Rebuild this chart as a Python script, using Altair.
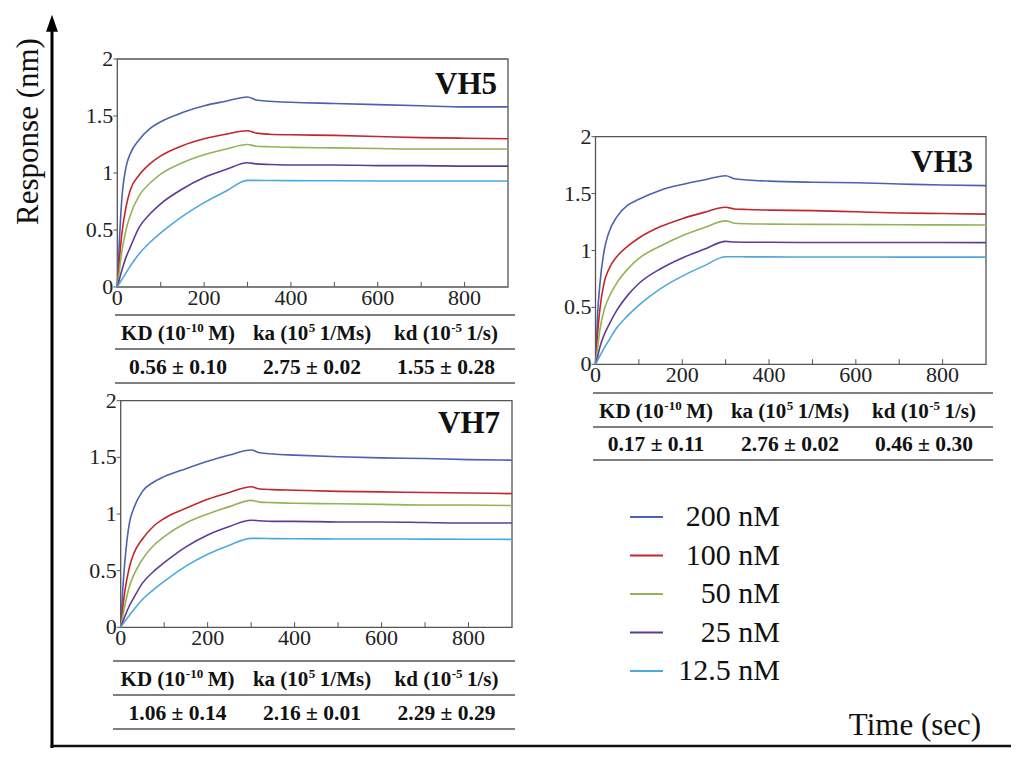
import altair as alt
import pandas as pd

SERIF = "Liberation Serif"

TIME = [0, 5, 10, 20, 30, 50, 75, 100, 150, 200, 250, 300, 320, 350, 400, 500, 600, 700, 800, 900]
CONC = ["200 nM", "100 nM", "50 nM", "25 nM", "12.5 nM"]
COLORS = ["#4b62b3", "#c1272d", "#93b356", "#5c3c95", "#4ea8de"]

VH5_200 = [0, 0.42, 0.75, 1.05, 1.17, 1.29, 1.39, 1.45, 1.53, 1.59, 1.63, 1.667, 1.64, 1.63, 1.62, 1.61, 1.60, 1.59, 1.58, 1.58]
VH5_100 = [0, 0.25, 0.45, 0.70, 0.85, 0.98, 1.08, 1.15, 1.24, 1.30, 1.34, 1.37, 1.35, 1.34, 1.335, 1.33, 1.32, 1.31, 1.305, 1.30]
VH5_50 = [0, 0.15, 0.30, 0.50, 0.63, 0.80, 0.91, 0.99, 1.09, 1.16, 1.21, 1.25, 1.235, 1.23, 1.225, 1.22, 1.215, 1.21, 1.21, 1.21]
VH5_25 = [0, 0.07, 0.14, 0.26, 0.35, 0.52, 0.64, 0.73, 0.86, 0.96, 1.03, 1.09, 1.08, 1.075, 1.07, 1.07, 1.065, 1.065, 1.06, 1.06]
VH5_12 = [0, 0.032, 0.063, 0.124, 0.183, 0.29, 0.39, 0.475, 0.62, 0.74, 0.84, 0.935, 0.935, 0.934, 0.933, 0.932, 0.93, 0.93, 0.93, 0.93]

VH7_200 = [0, 0.35, 0.60, 0.92, 1.05, 1.20, 1.28, 1.33, 1.40, 1.465, 1.52, 1.565, 1.54, 1.53, 1.52, 1.505, 1.495, 1.49, 1.48, 1.475]
VH7_100 = [0, 0.18, 0.33, 0.53, 0.65, 0.78, 0.89, 0.96, 1.05, 1.13, 1.19, 1.24, 1.22, 1.215, 1.21, 1.20, 1.195, 1.19, 1.185, 1.18]
VH7_50 = [0, 0.10, 0.20, 0.36, 0.46, 0.60, 0.72, 0.80, 0.92, 1.00, 1.065, 1.12, 1.105, 1.10, 1.095, 1.09, 1.085, 1.08, 1.08, 1.075]
VH7_25 = [0, 0.05, 0.10, 0.19, 0.26, 0.39, 0.49, 0.57, 0.71, 0.815, 0.89, 0.945, 0.94, 0.935, 0.935, 0.93, 0.93, 0.925, 0.92, 0.92]
VH7_12 = [0, 0.028, 0.055, 0.105, 0.155, 0.245, 0.33, 0.405, 0.54, 0.645, 0.725, 0.785, 0.785, 0.783, 0.782, 0.78, 0.78, 0.778, 0.777, 0.776]

VH3_200 = [0, 0.45, 0.70, 1.00, 1.15, 1.30, 1.40, 1.45, 1.53, 1.58, 1.62, 1.657, 1.63, 1.62, 1.61, 1.60, 1.595, 1.585, 1.575, 1.57]
VH3_100 = [0, 0.28, 0.48, 0.72, 0.83, 0.95, 1.04, 1.11, 1.21, 1.28, 1.335, 1.38, 1.365, 1.36, 1.355, 1.35, 1.34, 1.33, 1.325, 1.32]
VH3_50 = [0, 0.15, 0.30, 0.48, 0.58, 0.72, 0.84, 0.93, 1.04, 1.13, 1.20, 1.26, 1.24, 1.235, 1.232, 1.23, 1.228, 1.226, 1.225, 1.224]
VH3_25 = [0, 0.07, 0.15, 0.26, 0.34, 0.48, 0.61, 0.71, 0.84, 0.935, 1.01, 1.08, 1.075, 1.073, 1.072, 1.07, 1.07, 1.07, 1.07, 1.069]
VH3_12 = [0, 0.037, 0.073, 0.142, 0.205, 0.325, 0.43, 0.52, 0.665, 0.775, 0.865, 0.945, 0.945, 0.944, 0.944, 0.943, 0.943, 0.942, 0.942, 0.942]

HEAD_MAIN = ["KD (10", "ka (10", "kd (10"]
HEAD_SUP = ["-10", "5", "-5"]
HEAD_TAIL = ["M)", "1/Ms)", "1/s)"]
VH5_TABLE = ["0.56 \u00b1 0.10", "2.75 \u00b1 0.02", "1.55 \u00b1 0.28"]
VH7_TABLE = ["1.06 \u00b1 0.14", "2.16 \u00b1 0.01", "2.29 \u00b1 0.29"]
VH3_TABLE = ["0.17 \u00b1 0.11", "2.76 \u00b1 0.02", "0.46 \u00b1 0.30"]

Y_TICKS = [0, 0.5, 1, 1.5, 2]
Y_TICK_LABELS = ["0", "0.5", "1", "1.5", "2"]
X_LABELS = [0, 200, 400, 600, 800]
X_LABEL_TEXT = ["0", "200", "400", "600", "800"]
X_TICKS = [100, 200, 300, 400, 500, 600, 700, 800]

H = 740
W = 1003
ONE = pd.DataFrame({"a": [0]})
color_enc = alt.Color("conc:N", scale=alt.Scale(domain=CONC, range=COLORS), legend=None)

HEAD_SIZE = 21
SUP_SIZE = 13
VAL_SIZE = 21.5

# Times (Liberation Serif) bold advance widths, per 1000 em
_TB = {" ": 250, "(": 333, ")": 333, "K": 778, "D": 722, "M": 944, "k": 556,
       "a": 500, "d": 556, "/": 278, "s": 389, "-": 333}


def tw(s, size):
    return sum(_TB.get(ch, 500) for ch in s) * size / 1000.0


def panel(name, series, x0, x1, yb, yt, tx, ty):
    rows = []
    for conc, vals in zip(CONC, series):
        for t, v in zip(TIME, vals):
            rows.append({"t": t, "v": v, "conc": conc})
    df = pd.DataFrame(rows)
    xs = alt.Scale(domain=[0, 900], range=[x0, x1], nice=False, zero=False)
    ys = alt.Scale(domain=[0, 2], range=[yb, yt], nice=False, zero=False)
    frame = alt.Chart(ONE).mark_rect(fillOpacity=0, stroke="#555", strokeWidth=1.3).encode(
        x=alt.XDatum(0, scale=xs, axis=None), x2=alt.X2Datum(900),
        y=alt.YDatum(0, scale=ys, axis=None), y2=alt.Y2Datum(2),
    )
    lines = alt.Chart(df).mark_line(strokeWidth=1.6, interpolate="monotone").encode(
        x=alt.X("t:Q", axis=None),
        y=alt.Y("v:Q", axis=None),
        color=color_enc,
    )
    xticks = alt.Chart(pd.DataFrame({"t": X_TICKS})).mark_rule(color="#555", strokeWidth=1).encode(
        x=alt.X("t:Q", axis=None),
        y=alt.YDatum(0, axis=None), y2=alt.Y2Datum(0.045),
    )
    xlab = alt.Chart(pd.DataFrame({"t": X_LABELS, "lab": X_LABEL_TEXT})).mark_text(
        font=SERIF, fontSize=22, align="center", baseline="top", color="#222"
    ).encode(x=alt.X("t:Q", axis=None), y=alt.value(yb + 0.5), text="lab:N")
    yticks = alt.Chart(pd.DataFrame({"v": Y_TICKS})).mark_rule(color="#555", strokeWidth=1).encode(
        x=alt.value(x0 - 4), x2=alt.value(x0), y=alt.Y("v:Q", axis=None))
    ylab = alt.Chart(pd.DataFrame({"v": Y_TICKS, "lab": Y_TICK_LABELS})).mark_text(
        font=SERIF, fontSize=22, align="right", baseline="middle", color="#222"
    ).encode(x=alt.value(x0 - 4), y=alt.Y("v:Q", axis=None), text="lab:N")
    title = alt.Chart(pd.DataFrame({"name": [name]})).mark_text(
        font=SERIF, fontSize=31, fontWeight="bold", align="right", baseline="middle", color="#111"
    ).encode(x=alt.value(tx), y=alt.value(ty), text="name:N")
    return alt.layer(frame, xticks, yticks, lines, xlab, ylab, title)


def table(values, xl, xr, cols, ys):
    layers = []
    for yv in (ys[0], ys[2], ys[4]):
        layers.append(alt.Chart(ONE).mark_rule(color="#808080", strokeWidth=1.8).encode(
            x=alt.value(xl), x2=alt.value(xr), y=alt.value(yv)))
    gap = 5
    for c, main, sup, tail, val in zip(cols, HEAD_MAIN, HEAD_SUP, HEAD_TAIL, values):
        wm, ws, wt = tw(main, HEAD_SIZE), tw(sup, SUP_SIZE), tw(tail, HEAD_SIZE)
        start = c - (wm + ws + gap + wt) / 2.0
        layers.append(alt.Chart(pd.DataFrame({"s": [main]})).mark_text(
            font=SERIF, fontSize=HEAD_SIZE, fontWeight="bold", align="left", baseline="middle", color="#111"
        ).encode(x=alt.value(start), y=alt.value(ys[1]), text="s:N"))
        layers.append(alt.Chart(pd.DataFrame({"s": [sup]})).mark_text(
            font=SERIF, fontSize=SUP_SIZE, fontWeight="bold", align="left", baseline="middle", color="#111"
        ).encode(x=alt.value(start + wm + 0.5), y=alt.value(ys[1] - 6), text="s:N"))
        layers.append(alt.Chart(pd.DataFrame({"s": [tail]})).mark_text(
            font=SERIF, fontSize=HEAD_SIZE, fontWeight="bold", align="left", baseline="middle", color="#111"
        ).encode(x=alt.value(start + wm + ws + gap), y=alt.value(ys[1]), text="s:N"))
        layers.append(alt.Chart(pd.DataFrame({"s": [val]})).mark_text(
            font=SERIF, fontSize=VAL_SIZE, fontWeight="bold", align="center", baseline="middle", color="#111"
        ).encode(x=alt.value(c), y=alt.value(ys[3]), text="s:N"))
    return alt.layer(*layers)


vh5 = panel("VH5", [VH5_200, VH5_100, VH5_50, VH5_25, VH5_12], 109.3, 500, 279, 51, 489, 77)
vh7 = panel("VH7", [VH7_200, VH7_100, VH7_50, VH7_25, VH7_12], 112.7, 504, 619.3, 392.7, 492, 415.5)
vh3 = panel("VH3", [VH3_200, VH3_100, VH3_50, VH3_25, VH3_12], 587.5, 978, 356.3, 128.7, 965, 154.5)

t5 = table(VH5_TABLE, 107, 507, [170, 304, 438], [307, 325.5, 341, 359.5, 375])
t7 = table(VH7_TABLE, 105, 507, [169.5, 304, 438.5], [653, 671.5, 687, 705.5, 721])
t3 = table(VH3_TABLE, 585, 985, [648, 782, 916], [385, 403.5, 419, 437, 452])

leg_df = pd.DataFrame({"conc": CONC})
leg_y = alt.Y("conc:N", sort=CONC, scale=alt.Scale(type="point", range=[509, 663], padding=0), axis=None)
legend = alt.layer(
    alt.Chart(leg_df).mark_rule(strokeWidth=2).encode(
        x=alt.value(622), x2=alt.value(655), y=leg_y, color=color_enc),
    alt.Chart(leg_df).mark_text(font=SERIF, fontSize=30, align="right", baseline="middle", color="#111").encode(
        x=alt.value(772), y=leg_y, text="conc:N"),
)

vline = alt.Chart(ONE).mark_rule(strokeWidth=3, color="black").encode(
    x=alt.value(44), y=alt.value(20), y2=alt.value(H))
hline = alt.Chart(ONE).mark_rule(strokeWidth=2.5, color="#111").encode(
    x=alt.value(42.5), x2=alt.value(W), y=alt.value(738))
arrow = alt.Chart(ONE).mark_point(
    shape="M0,-1L0.7,1L-0.7,1Z", filled=True, size=289, color="black", opacity=1
).encode(x=alt.value(44), y=alt.value(15.3))
ylab_big = alt.Chart(ONE).mark_text(
    text="Response (nm)", angle=270, font=SERIF, fontSize=31, baseline="middle", color="#111"
).encode(x=alt.value(20.5), y=alt.value(123.5))
xlab_big = alt.Chart(ONE).mark_text(
    text="Time (sec)", font=SERIF, fontSize=31, baseline="middle", color="#111"
).encode(x=alt.value(907), y=alt.value(718))

chart = alt.layer(
    vh5, vh7, vh3, t5, t7, t3, legend, vline, hline, arrow, ylab_big, xlab_big
).resolve_scale(
    x="independent", y="independent"
).properties(
    width=W, height=H, padding=0, autosize=alt.AutoSizeParams(type="none")
).configure_view(strokeWidth=0)

chart.save("out.html", embed_options={"renderer": "svg", "actions": False})
